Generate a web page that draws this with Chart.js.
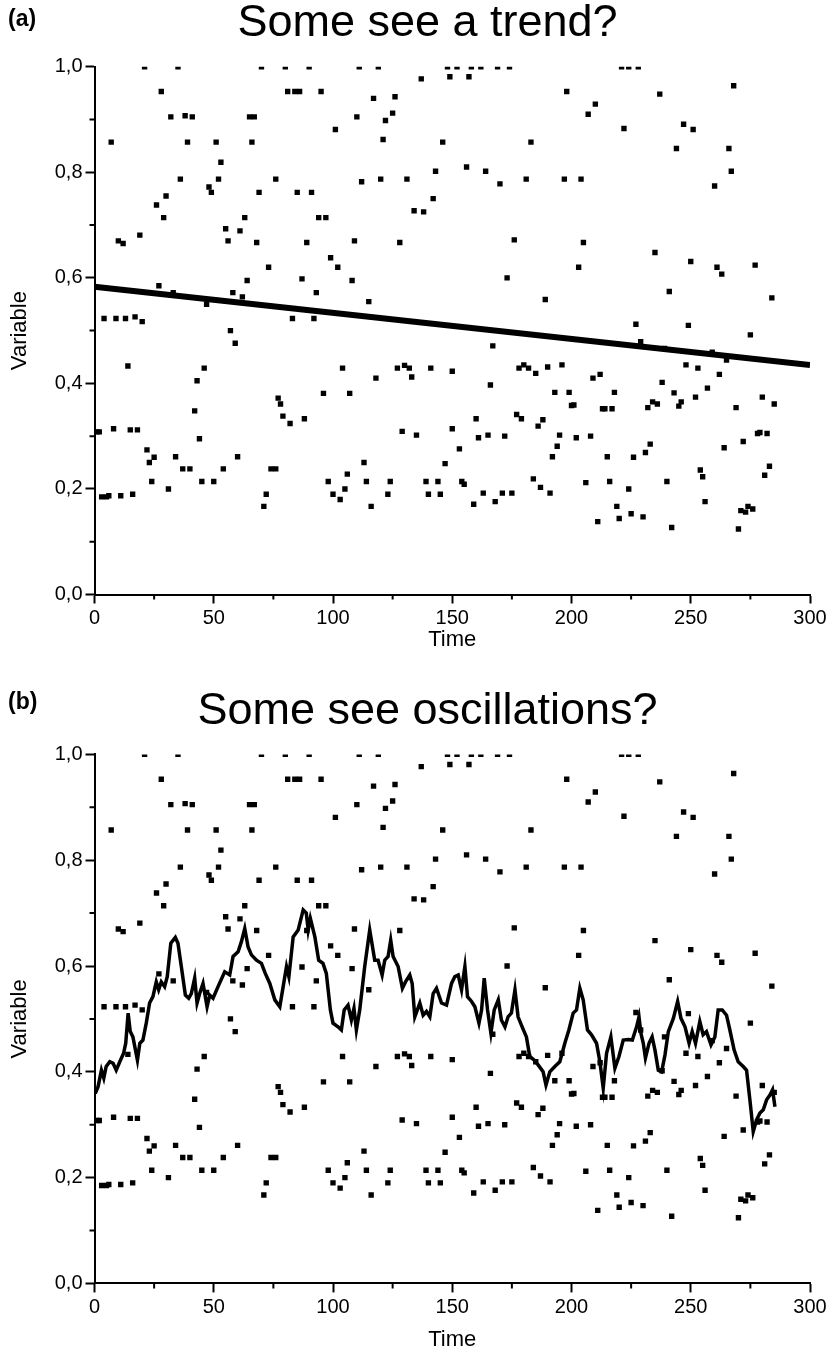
<!DOCTYPE html>
<html>
<head>
<meta charset="utf-8">
<script src="https://cdn.jsdelivr.net/npm/chart.js@4.4.1/dist/chart.umd.min.js"></script>
<style>
  html, body { margin: 0; padding: 0; background: #fff; }
  body { width: 831px; height: 1365px; position: relative; overflow: hidden; font-family: "Liberation Sans", Arial, sans-serif; color: #000; }
  .panel { position: absolute; left: 0; width: 831px; }
  .tag { position: absolute; left: 8px; font-weight: bold; font-size: 23px; }
  .title { position: absolute; left: 12px; width: 831px; text-align: center; font-size: 45px; white-space: nowrap; }
</style>
</head>
<body>
<div class="panel" style="top:0;height:680px"><canvas id="chartA" width="831" height="680"></canvas></div>
<div class="panel" style="top:680px;height:685px"><canvas id="chartB" width="831" height="685"></canvas></div>
<div class="tag" style="top:5px">(a)</div>
<div class="title" style="top:-5px">Some see a trend?</div>
<div class="tag" style="top:688px">(b)</div>
<div class="title" style="top:683px">Some see oscillations?</div>
<script>
// raw observations (same in both panels)
const obsTime = [
  21, 35, 70, 28, 32, 38, 41, 65, 67, 7, 39, 51, 66, 53, 36, 52, 48, 49, 69, 30,
  26, 29, 63, 55, 61, 10, 12, 19, 56, 68, 73, 64, 27, 33, 58, 62, 47, 4, 9, 13,
  17, 20, 57,
  80, 90, 111, 119, 148, 137, 149, 81, 84, 86, 95, 117, 126, 125, 110, 122, 101, 121, 146, 143,
  76, 112, 120, 131, 85, 91, 142, 134, 138, 94, 97, 89, 109, 128, 99, 102, 87, 108, 93, 115,
  83, 92,
  152, 158, 162, 169, 174, 221, 224, 228, 157, 198, 210, 207, 222, 183, 156, 164, 170, 181, 197, 204,
  176, 205, 203, 173, 189,
  268, 237, 247, 251, 244, 266, 267, 260, 235, 250, 261, 263, 277, 241, 284, 227, 249, 275,
  59, 14, 46, 43, 42, 1, 2, 8, 15, 18, 44, 22, 23, 25, 34, 60, 37, 40, 54, 74,
  76, 24, 45, 50, 31, 3, 5, 6, 11, 16, 72, 71,
  104, 127, 130, 132, 133, 141, 150, 118, 96, 107, 77, 78, 79, 82, 88, 129, 135, 150, 113, 106,
  98, 114, 124, 139, 144, 147, 100, 105, 103, 123, 140, 145, 116,
  167, 178, 180, 182, 185, 190, 196, 166, 209, 212, 193, 199, 218, 200, 201, 213, 214, 217, 160, 177,
  179, 188, 186, 161, 165, 172, 195, 202, 208, 153, 194, 192, 215, 226, 154, 155, 163, 171, 175, 159,
  168, 184, 187, 191, 206, 216, 224, 219, 220, 225, 211,
  229, 239, 259, 265, 248, 253, 262, 238, 257, 243, 252, 246, 245, 232, 234, 236, 269, 280, 285, 278,
  279, 282, 272, 264, 233, 231, 254, 255, 283, 281, 240, 256, 230, 271, 273, 274, 276, 242, 270
];
const obsValue = [
  1.0, 1.0, 1.0, 0.953, 0.905, 0.907, 0.905, 0.905, 0.905, 0.857, 0.857, 0.857, 0.857, 0.819, 0.787, 0.787, 0.772, 0.762, 0.762, 0.755,
  0.738, 0.714, 0.714, 0.693, 0.689, 0.670, 0.665, 0.681, 0.670, 0.667, 0.620, 0.595, 0.585, 0.572, 0.572, 0.564, 0.550, 0.523, 0.523, 0.523,
  0.526, 0.517, 0.500,
  1.0, 1.0, 1.0, 1.0, 1.0, 0.977, 0.981, 0.953, 0.953, 0.953, 0.953, 0.940, 0.943, 0.912, 0.905, 0.898, 0.881, 0.862, 0.857, 0.802,
  0.787, 0.782, 0.787, 0.787, 0.762, 0.762, 0.750, 0.727, 0.725, 0.714, 0.714, 0.667, 0.670, 0.667, 0.638, 0.620, 0.598, 0.595, 0.572, 0.555,
  0.523, 0.523,
  1.0, 1.0, 1.0, 1.0, 1.0, 1.0, 1.0, 1.0, 0.981, 0.953, 0.929, 0.910, 0.883, 0.857, 0.810, 0.802, 0.778, 0.787, 0.787, 0.787,
  0.672, 0.667, 0.620, 0.600, 0.559,
  0.964, 0.948, 0.891, 0.881, 0.845, 0.845, 0.802, 0.774, 0.648, 0.631, 0.620, 0.607, 0.624, 0.574, 0.562, 0.512, 0.510, 0.492,
  0.476, 0.433, 0.429, 0.405, 0.348, 0.308, 0.308, 0.314, 0.312, 0.312, 0.295, 0.274, 0.250, 0.260, 0.261, 0.261, 0.238, 0.238, 0.238, 0.238,
  0.238, 0.214, 0.214, 0.214, 0.200, 0.185, 0.185, 0.187, 0.187, 0.190, 0.190, 0.167,
  0.429, 0.429, 0.434, 0.429, 0.412, 0.429, 0.423, 0.410, 0.381, 0.381, 0.372, 0.361, 0.338, 0.324, 0.333, 0.309, 0.302, 0.314, 0.250, 0.228,
  0.214, 0.214, 0.214, 0.214, 0.214, 0.248, 0.190, 0.200, 0.180, 0.190, 0.190, 0.190, 0.167,
  0.471, 0.429, 0.435, 0.429, 0.419, 0.431, 0.435, 0.397, 0.410, 0.417, 0.383, 0.383, 0.383, 0.358, 0.359, 0.352, 0.352, 0.352, 0.333, 0.341,
  0.333, 0.331, 0.319, 0.297, 0.302, 0.300, 0.302, 0.297, 0.300, 0.276, 0.281, 0.261, 0.261, 0.260, 0.214, 0.209, 0.192, 0.192, 0.192, 0.171,
  0.176, 0.219, 0.203, 0.192, 0.212, 0.214, 0.200, 0.167, 0.144, 0.153, 0.138,
  0.479, 0.466, 0.459, 0.444, 0.435, 0.429, 0.417, 0.402, 0.391, 0.382, 0.374, 0.365, 0.357, 0.354, 0.365, 0.361, 0.354, 0.374, 0.361, 0.305,
  0.307, 0.305, 0.290, 0.278, 0.285, 0.269, 0.236, 0.223, 0.243, 0.226, 0.214, 0.176, 0.147, 0.159, 0.156, 0.167, 0.162, 0.127, 0.124
];

// fitted straight line, panel (a)
const trendTime = [0, 300];
const trendValue = [0.583, 0.435];

// running mean, panel (b)
const smoothTime = [
  0.3, 1.5, 2.9, 3.9, 4.9, 6.4, 7.8, 9.1, 10.6, 12.2, 13.1, 14.1, 15.0, 16.1, 18.0, 19.0, 20.3, 21.7, 23.1, 24.5,
  25.9, 26.9, 28.0, 29.4, 30.5, 32.0, 33.9, 35.0, 36.4, 38.1, 39.5, 40.6, 42.0, 43.0, 44.1, 45.5, 47.2, 48.3, 49.7, 51.8,
  54.6, 56.7, 58.1, 60.2, 61.6, 63.0, 64.4, 65.8, 67.9, 70.0, 71.6, 73.5,
  75.6, 77.7, 79.1, 80.5, 81.5, 83.3, 85.4, 87.5, 88.8, 89.6, 90.5, 92.4, 94.0, 95.8, 97.2, 98.9, 100.0, 102.1, 103.5, 104.7,
  106.3, 107.7, 108.8, 109.8, 111.2, 113.3, 115.4, 117.5, 118.9, 120.6, 121.7, 123.1, 124.2, 125.2, 127.3, 129.1, 130.4, 132.2, 133.2, 134.3,
  136.4, 137.8, 139.2, 140.6, 142.0, 143.4, 145.5, 147.6,
  149.7, 151.1, 152.5, 153.9, 155.3, 156.4, 158.1, 159.5, 161.2, 162.3, 163.4, 164.8, 166.2, 167.6, 169.3, 170.6, 172.1, 173.4, 174.8, 176.3,
  177.6, 179.3, 181.1, 182.5, 184.4, 186.0, 188.1, 189.3, 190.9, 193.0, 195.1, 197.2, 198.9, 200.7, 202.1, 203.5, 204.9, 206.7, 208.4, 210.5,
  211.9, 213.3, 214.7, 216.5, 218.2, 219.9, 221.7, 223.8,
  225.5, 227.3, 228.3, 229.1, 230.1, 231.0, 232.5, 233.8, 235.0, 236.4, 237.8, 239.2, 240.6, 242.7, 244.5, 245.9, 247.6, 249.3, 250.6, 252.0,
  253.8, 255.2, 256.6, 258.5, 260.1, 261.5, 263.2, 265.0, 266.4, 268.2, 269.9, 272.0, 273.4, 274.8, 276.2, 277.6, 279.0, 280.4, 281.8, 283.2,
  284.3, 285.3
];
const smoothValue = [
  0.359, 0.372, 0.403, 0.388, 0.410, 0.419, 0.416, 0.403, 0.419, 0.435, 0.454, 0.511, 0.476, 0.466, 0.422, 0.454, 0.460, 0.492, 0.530, 0.542,
  0.570, 0.555, 0.570, 0.561, 0.580, 0.643, 0.654, 0.643, 0.599, 0.545, 0.539, 0.548, 0.577, 0.530, 0.548, 0.567, 0.523, 0.545, 0.539, 0.561,
  0.589, 0.583, 0.618, 0.627, 0.646, 0.671, 0.636, 0.621, 0.611, 0.605, 0.586, 0.567,
  0.536, 0.523, 0.561, 0.599, 0.580, 0.655, 0.668, 0.706, 0.700, 0.668, 0.690, 0.655, 0.611, 0.605, 0.586, 0.517, 0.492, 0.485, 0.479, 0.517,
  0.526, 0.498, 0.520, 0.479, 0.517, 0.599, 0.668, 0.611, 0.611, 0.583, 0.611, 0.618, 0.649, 0.618, 0.599, 0.558, 0.570, 0.583, 0.567, 0.504,
  0.530, 0.507, 0.514, 0.504, 0.548, 0.558, 0.530, 0.526,
  0.567, 0.580, 0.583, 0.555, 0.599, 0.542, 0.533, 0.523, 0.492, 0.517, 0.577, 0.517, 0.473, 0.517, 0.536, 0.498, 0.485, 0.504, 0.511, 0.555,
  0.504, 0.485, 0.466, 0.429, 0.422, 0.413, 0.400, 0.375, 0.400, 0.410, 0.419, 0.454, 0.479, 0.511, 0.517, 0.558, 0.536, 0.479, 0.470, 0.454,
  0.419, 0.369, 0.435, 0.466, 0.407, 0.429, 0.460, 0.461,
  0.460, 0.485, 0.504, 0.473, 0.454, 0.426, 0.454, 0.466, 0.441, 0.403, 0.400, 0.432, 0.476, 0.501, 0.533, 0.501, 0.485, 0.454, 0.476, 0.454,
  0.495, 0.470, 0.476, 0.451, 0.466, 0.517, 0.517, 0.507, 0.479, 0.441, 0.419, 0.410, 0.403, 0.347, 0.287, 0.309, 0.322, 0.328, 0.347, 0.356,
  0.366, 0.334
];

// axis ticks
const xMajor = [0, 50, 100, 150, 200, 250, 300];
const xMinor = [25, 75, 125, 175, 225, 275];
const yMajor = [0, 0.2, 0.4, 0.6, 0.8, 1.0];
const yMinor = [0.1, 0.3, 0.5, 0.7, 0.9];

const FONT = '"Liberation Sans", Arial, sans-serif';

function pairs(xs, ys) {
  return xs.map((x, i) => ({ x, y: ys[i] }));
}

// short ticks between the labelled ones
const minorTicks = {
  id: 'minorTicks',
  afterDraw(chart) {
    const { ctx, scales: { x, y } } = chart;
    ctx.save();
    ctx.strokeStyle = '#000';
    ctx.lineWidth = 2;
    ctx.beginPath();
    xMinor.forEach(v => {
      const px = x.getPixelForValue(v);
      ctx.moveTo(px, x.top);
      ctx.lineTo(px, x.top + 5);
    });
    yMinor.forEach(v => {
      const py = y.getPixelForValue(v);
      ctx.moveTo(y.right, py);
      ctx.lineTo(y.right - 5, py);
    });
    ctx.stroke();
    ctx.restore();
  }
};

function makeChart(id, lineDataset, topPad, xAxisH, timeTitlePad) {
  const ctx = document.getElementById(id).getContext('2d');
  return new Chart(ctx, {
    type: 'scatter',
    data: {
      datasets: [
        lineDataset,
        {
          data: pairs(obsTime, obsValue),
          pointStyle: 'rect',
          pointRadius: 3.8,
          pointBorderWidth: 0,
          backgroundColor: '#000',
          borderColor: '#000',
          clip: 0
        }
      ]
    },
    options: {
      responsive: false,
      animation: false,
      layout: { padding: { top: topPad, right: 21, bottom: 0, left: 0 } },
      plugins: { legend: { display: false }, tooltip: { enabled: false } },
      scales: {
        x: {
          type: 'linear',
          min: 0,
          max: 300,
          afterBuildTicks: s => { s.ticks = xMajor.map(v => ({ value: v })); },
          afterFit: s => { s.height = xAxisH; },
          grid: { drawOnChartArea: false, tickLength: 9, tickWidth: 2, tickColor: '#000' },
          border: { color: '#000', width: 2 },
          ticks: { color: '#000', padding: 3, font: { family: FONT, size: 20 }, maxRotation: 0 },
          title: { display: true, text: 'Time', color: '#000', font: { family: FONT, size: 22 }, padding: { top: 0, bottom: timeTitlePad } }
        },
        y: {
          type: 'linear',
          min: 0,
          max: 1,
          afterBuildTicks: s => { s.ticks = yMajor.map(v => ({ value: v })); },
          afterFit: s => { s.width = 94.5; },
          grid: { drawOnChartArea: false, tickLength: 9, tickWidth: 2, tickColor: '#000' },
          border: { color: '#000', width: 2 },
          ticks: {
            color: '#000',
            padding: 3,
            font: { family: FONT, size: 20 },
            callback: v => v.toFixed(1).replace('.', ',')
          },
          title: { display: true, text: 'Variable', color: '#000', font: { family: FONT, size: 22 }, padding: { top: 7, bottom: 0 } }
        }
      }
    },
    plugins: [minorTicks]
  });
}

makeChart('chartA', {
  data: pairs(trendTime, trendValue),
  showLine: true,
  borderColor: '#000',
  borderWidth: 6,
  pointRadius: 0,
  clip: 0
}, 66.7, 85.5, 27);

makeChart('chartB', {
  data: pairs(smoothTime, smoothValue),
  showLine: true,
  borderColor: '#000',
  borderWidth: 3.5,
  tension: 0,
  pointRadius: 0,
  clip: 0
}, 74.4, 81.6, 12);
</script>
</body>
</html>
